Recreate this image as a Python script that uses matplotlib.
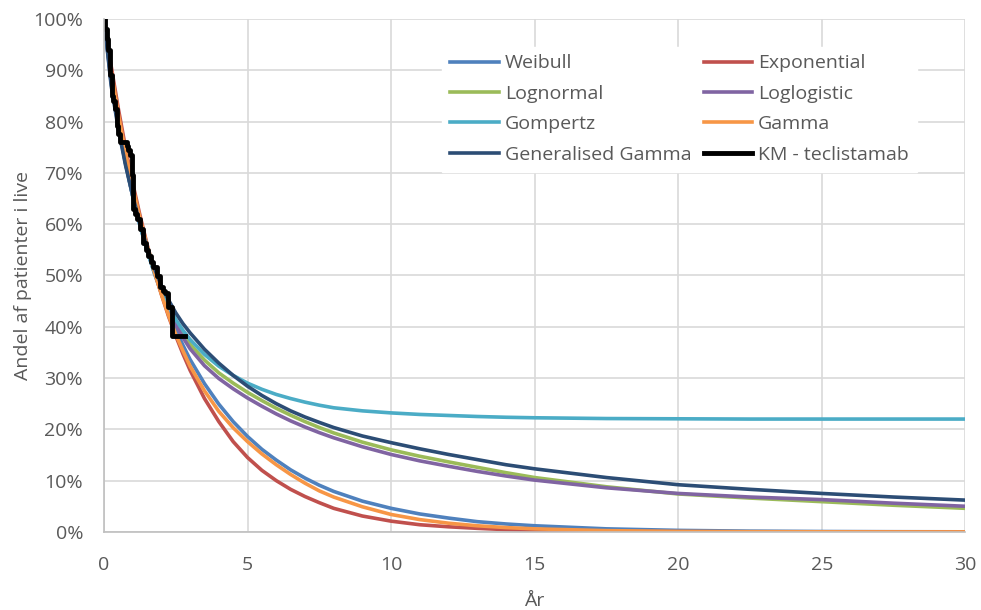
import matplotlib
matplotlib.use('Agg')
from matplotlib import pyplot as plt
from matplotlib.ticker import FuncFormatter

# tid i år
t = [0, 0.25, 0.5, 0.75, 1, 1.25, 1.5, 1.75, 2, 2.25, 2.5, 2.75, 3, 3.5, 4, 4.5, 5, 5.5, 6, 6.5,
     7, 7.5, 8, 9, 10, 11, 12, 13, 14, 15, 17.5, 20, 22.5, 25, 27.5, 30]

# overlevelse i %
weibull = [100, 87.5, 79, 71.8, 65.5, 59.8, 55, 50.5, 46.5, 42.8, 39.5, 36.4, 33.6, 28.9, 24.9, 21.5, 18.6, 16.1,
           14, 12.1, 10.5, 9.1, 7.9, 6, 4.6, 3.5, 2.7, 2.0, 1.55, 1.2, 0.6, 0.3, 0.15, 0.08, 0.04, 0.02]
exponential = [100, 90.8, 82.5, 74.9, 68, 61.8, 56.1, 51, 46.3, 42, 38.2, 34.7, 31.5, 26, 21.5, 17.6, 14.5, 12,
               10, 8.3, 6.9, 5.7, 4.6, 3.1, 2.1, 1.4, 1.0, 0.7, 0.45, 0.3, 0.12, 0.05, 0.02, 0, 0, 0]
lognormal = [100, 88.5, 79.5, 72, 66, 60.5, 55.7, 51.4, 47.6, 44.2, 41, 38.6, 36.6, 33.5, 31.0, 29.0, 27.2, 25.6,
             24.1, 22.75, 21.5, 20.35, 19.3, 17.5, 16.0, 14.75, 13.65, 12.6, 11.55, 10.6, 8.8, 7.4, 6.6, 5.9, 5.2, 4.6]
loglogistic = [100, 88, 79.5, 72, 65.5, 60, 55, 50.8, 47, 43.6, 40.5, 37.9, 35.7, 32.4, 29.9, 27.9, 26.1, 24.5,
               23.0, 21.65, 20.45, 19.35, 18.35, 16.6, 15.1, 13.85, 12.8, 11.8, 10.9, 10.1, 8.6, 7.5, 6.8, 6.3, 5.6, 5.0]
gompertz = [100, 88.5, 79.5, 72, 65.5, 59.8, 54.8, 50.6, 47.0, 44.0, 41.4, 39.3, 37.5, 34.6, 32.3, 30.5, 29.0, 27.8,
            26.8, 26.0, 25.3, 24.7, 24.2, 23.6, 23.2, 22.9, 22.7, 22.5, 22.35, 22.25, 22.1, 22.05, 22.0, 22.0, 22.0, 22.0]
gamma = [100, 90, 81.5, 74, 67.3, 61.3, 55.8, 50.8, 46.3, 42.2, 38.5, 35.3, 32.3, 27.5, 23.5, 20.3, 17.6, 15.2,
         13.1, 11.2, 9.5, 8.0, 6.8, 4.9, 3.4, 2.4, 1.7, 1.2, 0.85, 0.6, 0.25, 0.1, 0.04, 0.02, 0, 0]
gen_gamma = [100, 87, 78.5, 71.5, 65.5, 60.2, 55.5, 51.5, 48, 45.2, 42.7, 40.6, 38.8, 35.6, 32.9, 30.5, 28.4, 26.6,
             25.0, 23.6, 22.4, 21.35, 20.35, 18.7, 17.4, 16.2, 15.1, 14.1, 13.1, 12.3, 10.6, 9.2, 8.3, 7.5, 6.8, 6.2]

# Kaplan-Meier (trappekurve)
km_t = [0, 0.05, 0.1, 0.15, 0.21, 0.27, 0.32, 0.38, 0.44, 0.5, 0.56, 0.79, 0.85, 0.91, 0.97,
        1.02, 1.08, 1.14, 1.25, 1.37, 1.45, 1.54, 1.63, 1.72, 1.83, 1.95, 2.05, 2.13, 2.24, 2.38, 2.82]
km_s = [100, 98, 96, 94, 89, 85, 84, 82.5, 79.2, 77.5, 76, 75.3, 74.5, 73.4, 69.5,
        63, 62, 61, 59, 56.3, 55, 53.7, 52.7, 51.7, 49.8, 47.8, 47, 46.5, 43.9, 38.1, 38.1]

plt.rcParams['font.family'] = ['Open Sans', 'DejaVu Sans']

fig = plt.figure(figsize=(9.81, 6.10), dpi=100)
ax = fig.add_axes([0.106, 0.128, 0.878, 0.841])

lw = 2.6
l_wei, = ax.plot(t, weibull, color='#4F81BD', lw=lw, label='Weibull')
l_exp, = ax.plot(t, exponential, color='#C0504D', lw=lw, label='Exponential')
l_lgn, = ax.plot(t, lognormal, color='#9BBB59', lw=lw, label='Lognormal')
l_llg, = ax.plot(t, loglogistic, color='#8064A2', lw=lw, label='Loglogistic')
l_gom, = ax.plot(t, gompertz, color='#4BACC6', lw=lw, label='Gompertz')
l_gam, = ax.plot(t, gamma, color='#F79646', lw=lw, label='Gamma')
l_gg, = ax.plot(t, gen_gamma, color='#2C4D75', lw=lw, label='Generalised Gamma')
l_km, = ax.step(km_t, km_s, where='post', color='black', lw=3.5, label='KM - teclistamab')

ax.set_xlim(0, 30)
ax.set_ylim(0, 100)
ax.set_xticks(range(0, 31, 5))
ax.set_yticks(range(0, 101, 10))
ax.yaxis.set_major_formatter(FuncFormatter(lambda v, p: f'{v:.0f}%'))
ax.grid(True, color='#D9D9D9', lw=1.2)
ax.set_axisbelow(True)
for s in ['top', 'right']:
    ax.spines[s].set_visible(False)
for s in ['left', 'bottom']:
    ax.spines[s].set_color('#BFBFBF')
    ax.spines[s].set_linewidth(1.2)
ax.tick_params(length=0, labelsize=14, labelcolor='#595959')
ax.tick_params(axis='x', pad=17)
ax.tick_params(axis='y', pad=15)

ax.set_xlabel('År', fontsize=14, color='#595959', labelpad=13)
ax.set_ylabel('Andel af patienter i live', fontsize=14, color='#595959', labelpad=1)

handles = [l_wei, l_lgn, l_gom, l_gg, l_exp, l_llg, l_gam, l_km]
leg = ax.legend(handles=handles, ncol=2, loc='upper left', bbox_to_anchor=(0.393, 0.946),
                frameon=True, fancybox=False, edgecolor='white', framealpha=1,
                fontsize=14, handlelength=2.5, handletextpad=0.3, columnspacing=0.64,
                labelspacing=0.64, borderpad=0.4, borderaxespad=0)
for txt in leg.get_texts():
    txt.set_color('#595959')

fig.savefig('out.png', dpi=100)
